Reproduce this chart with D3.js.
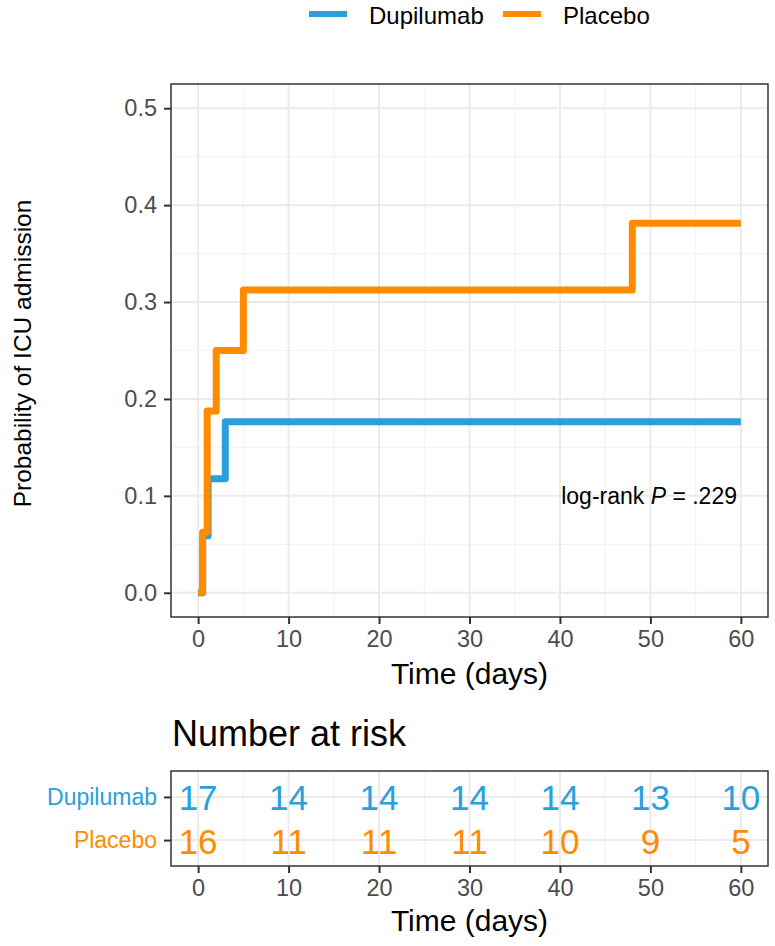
<!DOCTYPE html>
<html>
<head>
<meta charset="utf-8">
<script src="https://cdn.jsdelivr.net/npm/d3@7"></script>
<style>
  html, body { margin: 0; padding: 0; background: #fff; }
  svg text { font-family: "Liberation Sans", Arial, Helvetica, sans-serif; }
</style>
</head>
<body>
<div id="chart"></div>
<script>
// ---------------- data ----------------
const groups = ["Dupilumab", "Placebo"];
const groupColors = ["#2A9FDC", "#FF8C00"];
// step curves: event times (days) and cumulative probability after each step
const dupilumabTimes = [0, 0.5, 1.1, 3, 60];
const dupilumabProb  = [0, 0.0588, 0.1176, 0.1765, 0.1765];
const placeboTimes   = [0, 0.5, 1, 2, 5, 48, 60];
const placeboProb    = [0, 0.0625, 0.1875, 0.25, 0.3125, 0.3813, 0.3813];
const xTicks = [0, 10, 20, 30, 40, 50, 60];
const yTicks = [0, 0.1, 0.2, 0.3, 0.4, 0.5];
const riskTimes = [0, 10, 20, 30, 40, 50, 60];
const riskDupilumab = [17, 14, 14, 14, 14, 13, 10];
const riskPlacebo   = [16, 11, 11, 11, 10, 9, 5];
const pText = ["log-rank ", "P", " = .229"];

// ---------------- layout ----------------
const W = 775, H = 946;
const left = 171, right = 768;
const mainTop = 84, mainBottom = 617;
const riskTop = 771, riskBottom = 866;
const gridMajor = "#EBEBEB", gridMinor = "#F4F4F4";
const dark = "#333333", tickText = "#4D4D4D";

const svg = d3.select("#chart").append("svg").attr("width", W).attr("height", H);

const x = d3.scaleLinear().domain([-3, 63]).range([left, right]);
const y = d3.scaleLinear().domain([-0.025, 0.525]).range([mainBottom, mainTop]);

// ---------- main panel ----------
const main = svg.append("g");
const xMinor = d3.range(5, 60, 10);
const yMinor = d3.range(0.05, 0.5, 0.1);
main.append("g").selectAll("line").data(xMinor).join("line")
  .attr("x1", d => x(d)).attr("x2", d => x(d)).attr("y1", mainTop).attr("y2", mainBottom)
  .attr("stroke", gridMinor).attr("stroke-width", 1.2);
main.append("g").selectAll("line").data(yMinor).join("line")
  .attr("y1", d => y(d)).attr("y2", d => y(d)).attr("x1", left).attr("x2", right)
  .attr("stroke", gridMinor).attr("stroke-width", 1.2);
main.append("g").selectAll("line").data(xTicks).join("line")
  .attr("x1", d => x(d)).attr("x2", d => x(d)).attr("y1", mainTop).attr("y2", mainBottom)
  .attr("stroke", gridMajor).attr("stroke-width", 2);
main.append("g").selectAll("line").data(yTicks).join("line")
  .attr("y1", d => y(d)).attr("y2", d => y(d)).attr("x1", left).attr("x2", right)
  .attr("stroke", gridMajor).attr("stroke-width", 2);

// curves
const curves = [
  {t: dupilumabTimes, p: dupilumabProb, c: groupColors[0]},
  {t: placeboTimes, p: placeboProb, c: groupColors[1]}
];
const line = d3.line().x(d => x(d[0])).y(d => y(d[1])).curve(d3.curveStepAfter);
curves.forEach(cv => {
  const pts = cv.t.map((t, i) => [t, cv.p[i]]);
  main.append("path").attr("d", line(pts)).attr("fill", "none")
    .attr("stroke", cv.c).attr("stroke-width", 7)
    .attr("stroke-linejoin", "round").attr("stroke-linecap", "butt");
});

// p-value annotation
const pt = main.append("text").attr("x", 737).attr("y", y(0.1))
  .attr("text-anchor", "end").attr("dominant-baseline", "central")
  .attr("font-size", 23).attr("fill", "#000");
pt.append("tspan").text(pText[0]);
pt.append("tspan").attr("font-style", "italic").text(pText[1]);
pt.append("tspan").text(pText[2]);

// border
main.append("rect").attr("x", left).attr("y", mainTop)
  .attr("width", right - left).attr("height", mainBottom - mainTop)
  .attr("fill", "none").attr("stroke", dark).attr("stroke-width", 1.5);

// axes
const yAxis = main.append("g").attr("transform", `translate(${left},0)`)
  .call(d3.axisLeft(y).tickValues(yTicks).tickFormat(d3.format(".1f")).tickSize(7).tickPadding(7));
const xAxis = main.append("g").attr("transform", `translate(0,${mainBottom})`)
  .call(d3.axisBottom(x).tickValues(xTicks).tickSize(7).tickPadding(6));
[yAxis, xAxis].forEach(a => {
  a.select(".domain").remove();
  a.selectAll(".tick line").attr("stroke", dark).attr("stroke-width", 2);
  a.selectAll(".tick text").attr("fill", tickText).attr("font-size", 23.5)
    .attr("font-family", "Liberation Sans, Arial, sans-serif");
});

main.append("text").attr("x", (left + right) / 2).attr("y", 684)
  .attr("text-anchor", "middle").attr("font-size", 30).attr("fill", "#000").text("Time (days)");
main.append("text").attr("transform", `translate(22,${(mainTop + mainBottom) / 2 + 3}) rotate(-90)`)
  .attr("text-anchor", "middle").attr("dominant-baseline", "central")
  .attr("font-size", 24.5).attr("fill", "#000").text("Probability of ICU admission");

// legend
const legX = [309, 503];
const leg = svg.append("g");
groups.forEach((g, i) => {
  leg.append("line").attr("x1", legX[i]).attr("x2", legX[i] + 38).attr("y1", 14).attr("y2", 14)
    .attr("stroke", groupColors[i]).attr("stroke-width", 6);
  leg.append("text").attr("x", legX[i] + 60).attr("y", 15)
    .attr("dominant-baseline", "central").attr("font-size", 24).attr("fill", "#000").text(g);
});

// ---------- risk table ----------
const risk = svg.append("g");
risk.append("text").attr("x", 172).attr("y", 746).attr("font-size", 36).attr("fill", "#000")
  .text("Number at risk");

const yr = d3.scalePoint().domain(groups).range([riskTop, riskBottom]).padding(0.6);
risk.append("g").selectAll("line").data(xMinor).join("line")
  .attr("x1", d => x(d)).attr("x2", d => x(d)).attr("y1", riskTop).attr("y2", riskBottom)
  .attr("stroke", gridMinor).attr("stroke-width", 1.2);
risk.append("g").selectAll("line").data(xTicks).join("line")
  .attr("x1", d => x(d)).attr("x2", d => x(d)).attr("y1", riskTop).attr("y2", riskBottom)
  .attr("stroke", gridMajor).attr("stroke-width", 2);
risk.append("g").selectAll("line").data(groups).join("line")
  .attr("y1", d => yr(d)).attr("y2", d => yr(d)).attr("x1", left).attr("x2", right)
  .attr("stroke", gridMajor).attr("stroke-width", 2);

const riskRows = [riskDupilumab, riskPlacebo];
riskRows.forEach((row, gi) => {
  risk.append("g").selectAll("text").data(row).join("text")
    .attr("x", (d, i) => x(riskTimes[i])).attr("y", yr(groups[gi]) + 1)
    .attr("text-anchor", "middle").attr("dominant-baseline", "central")
    .attr("font-size", 35).attr("fill", groupColors[gi]).text(d => d);
});

risk.append("rect").attr("x", left).attr("y", riskTop)
  .attr("width", right - left).attr("height", riskBottom - riskTop)
  .attr("fill", "none").attr("stroke", dark).attr("stroke-width", 1.5);

const ryAxis = risk.append("g").attr("transform", `translate(${left},0)`)
  .call(d3.axisLeft(yr).tickSize(7).tickPadding(7));
const rxAxis = risk.append("g").attr("transform", `translate(0,${riskBottom})`)
  .call(d3.axisBottom(x).tickValues(xTicks).tickSize(7).tickPadding(6));
[ryAxis, rxAxis].forEach(a => {
  a.select(".domain").remove();
  a.selectAll(".tick line").attr("stroke", dark).attr("stroke-width", 2);
  a.selectAll(".tick text").attr("fill", tickText).attr("font-size", 23.5)
    .attr("font-family", "Liberation Sans, Arial, sans-serif");
});
ryAxis.selectAll(".tick text").attr("fill", (d, i) => groupColors[i]).attr("font-size", 23);

risk.append("text").attr("x", (left + right) / 2).attr("y", 931)
  .attr("text-anchor", "middle").attr("font-size", 30).attr("fill", "#000").text("Time (days)");
</script>
</body>
</html>
